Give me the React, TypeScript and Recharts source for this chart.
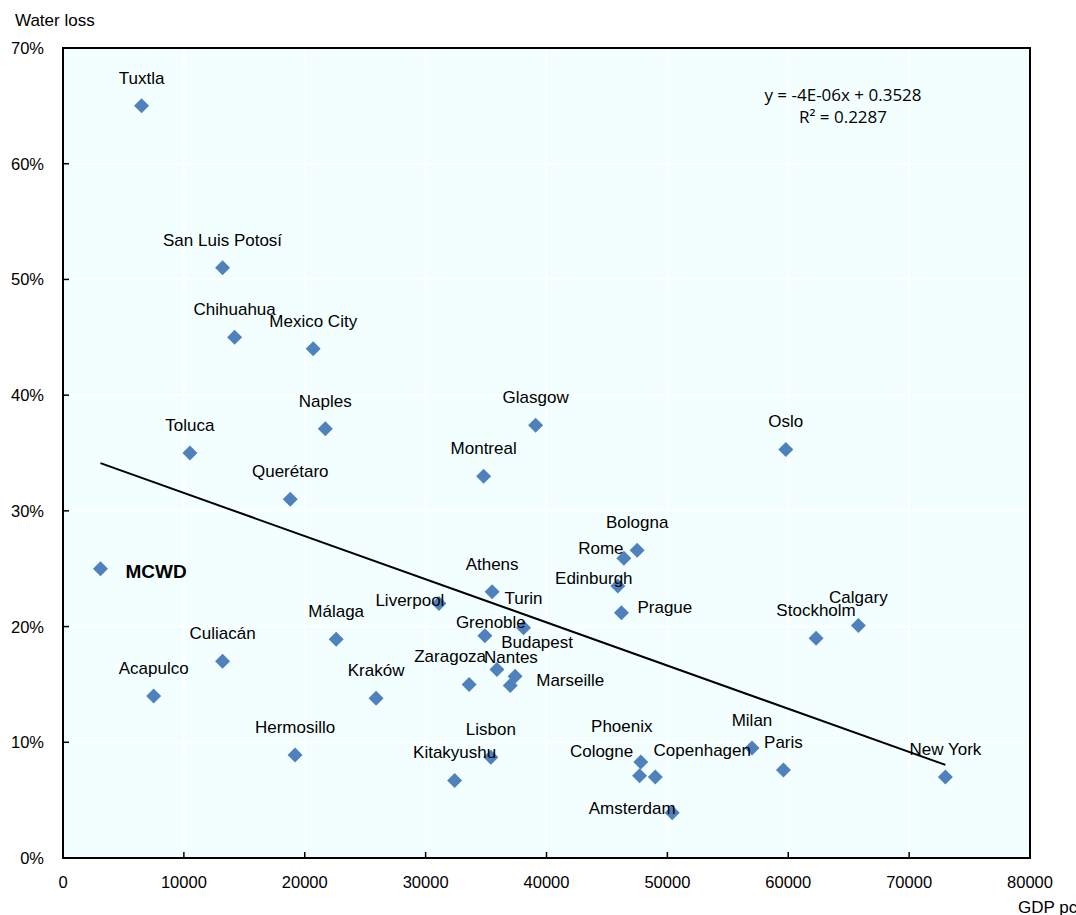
import { ScatterChart, Scatter, XAxis, YAxis, CartesianGrid, ReferenceLine, ReferenceArea } from 'recharts';

// Water loss (%) against GDP per capita, one point per city
const cities = [
  'Tuxtla', 'San Luis Potosí', 'Chihuahua', 'Mexico City', 'Naples', 'Glasgow', 'Toluca', 'Oslo',
  'Montreal', 'Querétaro', 'Bologna', 'Rome', 'MCWD', 'Edinburgh', 'Athens', 'Liverpool', 'Prague',
  'Calgary', 'Turin', 'Stockholm', 'Málaga', 'Grenoble', 'Culiacán', 'Nantes', 'Budapest', 'Zaragoza',
  'Marseille', 'Kraków', 'Acapulco', 'Hermosillo', 'Lisbon', 'Kitakyushu', 'Phoenix', 'Cologne',
  'Copenhagen', 'Amsterdam', 'Milan', 'Paris', 'New York',
];
const gdpPerCapita = [
  6500, 13200, 14200, 20700, 21700, 39100, 10500, 59800,
  34800, 18800, 47500, 46400, 3100, 45900, 35500, 31100, 46200,
  65800, 38100, 62300, 22600, 34900, 13200, 35900, 37400, 33600,
  37000, 25900, 7500, 19200, 35400, 32400, 47800, 47700,
  49000, 50400, 57000, 59600, 73000,
];
const waterLoss = [
  65, 51, 45, 44, 37.1, 37.4, 35, 35.3,
  33, 31, 26.6, 25.9, 25, 23.5, 23, 22, 21.2,
  20.1, 19.9, 19, 18.9, 19.2, 17, 16.3, 15.7, 15,
  14.9, 13.8, 14, 8.9, 8.7, 6.7, 8.3, 7.1,
  7, 3.9, 9.5, 7.6, 7,
];

const xTicks = [0, 10000, 20000, 30000, 40000, 50000, 60000, 70000, 80000];
const yTicks = [0, 10, 20, 30, 40, 50, 60, 70];

// Linear trend (fraction of water lost per unit of GDP pc)
const trendSlope = -3.73e-6;
const trendIntercept = 0.3528;
const trendR2 = 0.2287;

const points = cities.map((name, i) => ({ name, gdp: gdpPerCapita[i], loss: waterLoss[i] }));

const minGdp = Math.min(...gdpPerCapita);
const maxGdp = Math.max(...gdpPerCapita);
const trendAt = (x: number) => (trendIntercept + trendSlope * x) * 100;

const formatSlope = (v: number) => {
  const [m, e] = v.toExponential(0).split('e');
  const exp = Number(e);
  return `${m}E${exp < 0 ? '-' : '+'}${String(Math.abs(exp)).padStart(2, '0')}`;
};

const FONT = '"Liberation Sans", Arial, sans-serif';
const MARK = '#4F81BD';

// where each city's name sits relative to its marker
const labelPos: Record<string, { dx: number; dy: number; anchor?: 'start' | 'middle' | 'end' }> = {
  Rome: { dx: -23, dy: -10 },
  Edinburgh: { dx: -24, dy: -8 },
  Prague: { dx: 16, dy: -6, anchor: 'start' },
  MCWD: { dx: 25, dy: 3, anchor: 'start' },
  Turin: { dx: 0, dy: -30 },
  Grenoble: { dx: 6, dy: -14 },
  Budapest: { dx: 22, dy: -34 },
  Nantes: { dx: 14, dy: -12 },
  Zaragoza: { dx: -19, dy: -28 },
  Marseille: { dx: 26, dy: -6, anchor: 'start' },
  Liverpool: { dx: -29, dy: -3 },
  Phoenix: { dx: -19, dy: -36 },
  Cologne: { dx: -38, dy: -25 },
  Copenhagen: { dx: 47, dy: -27 },
  Amsterdam: { dx: -40, dy: -5 },
};

const Diamond = (props: any) => {
  const { cx, cy } = props;
  const r = 7.5;
  return (
    <polygon
      points={`${cx},${cy - r} ${cx + r},${cy} ${cx},${cy + r} ${cx - r},${cy}`}
      fill={MARK}
    />
  );
};

const CityLabel = (props: any) => {
  const { cx, cy, payload } = props;
  const pos = labelPos[payload.name] ?? { dx: 0, dy: -28 };
  const bold = payload.name === 'MCWD';
  return (
    <text
      x={cx + pos.dx}
      y={cy + pos.dy}
      dy="0.35em"
      textAnchor={pos.anchor ?? 'middle'}
      fontFamily={FONT}
      fontSize={bold ? 19 : 17}
      fontWeight={bold ? 'bold' : 'normal'}
      fill="#000"
    >
      {payload.name}
    </text>
  );
};

const XTick = (props: any) => {
  const { x, y, payload } = props;
  return (
    <g>
      <line x1={x} x2={x} y1={y} y2={y - 6} stroke="#000" strokeWidth={1.5} />
      <text x={x} y={y + 30} textAnchor="middle" fontFamily={FONT} fontSize={16.5} fill="#000">
        {payload.value}
      </text>
    </g>
  );
};

const YTick = (props: any) => {
  const { x, y, payload } = props;
  return (
    <g>
      <line x1={x} x2={x + 6} y1={y} y2={y} stroke="#000" strokeWidth={1.5} />
      <text x={x - 19} y={y + 6} textAnchor="end" fontFamily={FONT} fontSize={16.5} fill="#000">
        {`${payload.value}%`}
      </text>
    </g>
  );
};

export default function App() {
  return (
    <div style={{ position: 'absolute', left: 0, top: 0, width: 1076, height: 915, background: '#fff' }}>
      <ScatterChart width={1076} height={915} margin={{ top: 48, right: 46, bottom: 17, left: 3 }}>
        <CartesianGrid fill="#F3FFFF" stroke="#fff" strokeWidth={1.5} />
        <XAxis
          type="number"
          dataKey="gdp"
          domain={[0, 80000]}
          ticks={xTicks}
          interval={0}
          height={40}
          tickSize={0}
          tickMargin={0}
          tickLine={false}
          axisLine={{ stroke: '#000', strokeWidth: 2 }}
          tick={<XTick />}
        />
        <YAxis
          type="number"
          dataKey="loss"
          domain={[0, 70]}
          ticks={yTicks}
          interval={0}
          width={60}
          tickSize={0}
          tickMargin={0}
          tickLine={false}
          axisLine={{ stroke: '#000', strokeWidth: 2 }}
          tick={<YTick />}
        />
        <ReferenceArea x1={0} x2={80000} y1={0} y2={70} fill="none" stroke="#000" strokeWidth={2} />
        <ReferenceLine
          segment={[
            { x: minGdp, y: trendAt(minGdp) },
            { x: maxGdp, y: trendAt(maxGdp) },
          ]}
          stroke="#000"
          strokeWidth={2}
        />
        <Scatter data={points} shape={<Diamond />} isAnimationActive={false} />
        <Scatter data={points} shape={<CityLabel />} isAnimationActive={false} />
      </ScatterChart>
      <svg
        width={1076}
        height={915}
        style={{ position: 'absolute', left: 0, top: 0, pointerEvents: 'none' }}
      >
        <text x={15} y={26} fontFamily={FONT} fontSize={17} fill="#000">Water loss</text>
        <text x={1018} y={913} fontFamily={FONT} fontSize={17} fill="#000">GDP pc</text>
        <text x={843} y={101} textAnchor="middle" fontFamily='"Open Sans", sans-serif' fontSize={17} fill="#000">
          {`y = ${formatSlope(trendSlope)}x + ${trendIntercept.toFixed(4)}`}
        </text>
        <text x={843} y={123} textAnchor="middle" fontFamily='"Open Sans", sans-serif' fontSize={17} fill="#000">
          {`R² = ${trendR2.toFixed(4)}`}
        </text>
      </svg>
    </div>
  );
}
